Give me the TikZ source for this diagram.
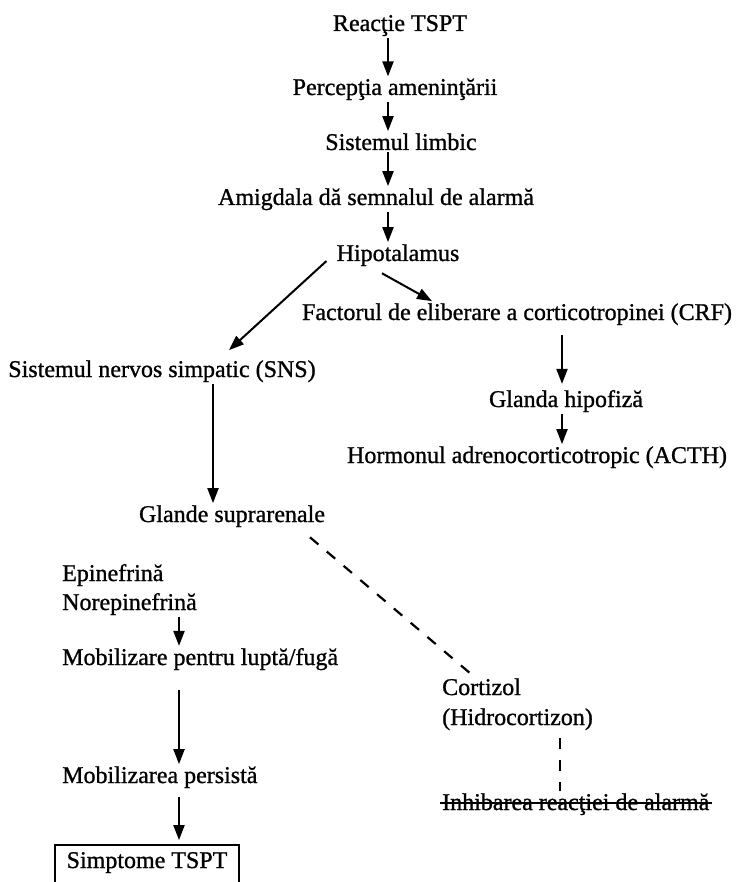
\documentclass[tikz,border=0pt]{standalone}
\usepackage{fontspec}
\setmainfont{Liberation Serif}[FakeBold=1]
\usetikzlibrary{arrows.meta}

\tikzset{
    txt/.style={inner sep=2pt, anchor=base, font=\fontsize{24}{29}\selectfont},
    ltxt/.style={txt, anchor=base west},
    arr/.style={line width=2pt, -{Triangle[length=15pt,width=11pt]}},
    dsh/.style={line width=2.2pt, dash pattern=on 11pt off 11pt}
}

\begin{document}
\begin{tikzpicture}[x=1pt, y=-1pt]
    \useasboundingbox (0,0) rectangle (737,882);
    \coordinate (ax) at (388,0);
    \coordinate (bx) at (562,0);
    \coordinate (cx) at (213,0);
    \coordinate (dx) at (179,0);
    \coordinate (ex) at (560,0);

    \node[txt] (rt) at (400,31) {Reacţie TSPT};
    \node[txt] (pa) at (395,95) {Percepţia ameninţării};
    \node[txt] (sl) at (401,150) {Sistemul limbic};
    \node[txt] (am) at (376,205) {Amigdala dă semnalul de alarmă};
    \node[txt] (hip) at (398,261) {Hipotalamus};
    \node[txt] (crf) at (517,320) {Factorul de eliberare a corticotropinei (CRF)};
    \node[txt] (sns) at (162,377) {Sistemul nervos simpatic (SNS)};
    \node[txt] (gh) at (566,407) {Glanda hipofiză};
    \node[txt] (acth) at (537,463) {Hormonul adrenocorticotropic (ACTH)};
    \node[txt] (gs) at (232,522) {Glande suprarenale};
    \node[ltxt] (epi) at (60,581) {Epinefrină};
    \node[ltxt] (nor) at (60,610) {Norepinefrină};
    \node[ltxt] (mob) at (60,665) {Mobilizare pentru luptă/fugă};
    \node[ltxt] (mp) at (60,783) {Mobilizarea persistă};
    \node[ltxt, draw, line width=2pt, inner xsep=9pt, inner ysep=7pt,
          text depth=30pt, minimum width=184pt] (st) at (54,868) {Simptome TSPT};
    \node[ltxt] (cort) at (440,695) {Cortizol};
    \node[ltxt] (hidro) at (440,725) {(Hidrocortizon)};
    \node[ltxt] (inh) at (440,810) {Inhibarea reacţiei de alarmă};
    \draw[line width=1.5pt] ([yshift=7pt]inh.base west) -- ([yshift=7pt]inh.base east);

    \draw[arr] (rt.south -| ax) -- (pa.north -| ax);
    \draw[arr] (pa.south -| ax) -- (sl.north -| ax);
    \draw[arr] (sl.south -| ax) -- (am.north -| ax);
    \draw[arr] (am.south -| ax) -- (hip.north -| ax);
    \draw[arr] ([xshift=-8pt]hip.base west) -- ([xshift=67pt,yshift=8pt]sns.north);
    \draw[arr] ([xshift=-16pt,yshift=-5pt]hip.south) -- ([xshift=-85pt]crf.north);
    \draw[arr] ([yshift=-8pt]crf.south -| bx) -- ([yshift=4pt]gh.north -| bx);
    \draw[arr] (gh.south -| bx) -- (acth.north -| bx);
    \draw[arr] (sns.south -| cx) -- (gs.north -| cx);
    \draw[dsh] ([xshift=78pt,yshift=-8pt]gs.south) -- ([xshift=30pt,yshift=3pt]cort.north west);
    \draw[arr] (nor.south -| dx) -- (mob.north -| dx);
    \draw[arr] ([yshift=-18pt]mob.south -| dx) -- (mp.north -| dx);
    \draw[arr] ([yshift=-7pt]mp.south -| dx) -- ([yshift=4pt]st.north -| dx);
    \draw[dsh] ([yshift=-6pt]hidro.south -| ex) -- (inh.north -| ex);
\end{tikzpicture}
\end{document}
